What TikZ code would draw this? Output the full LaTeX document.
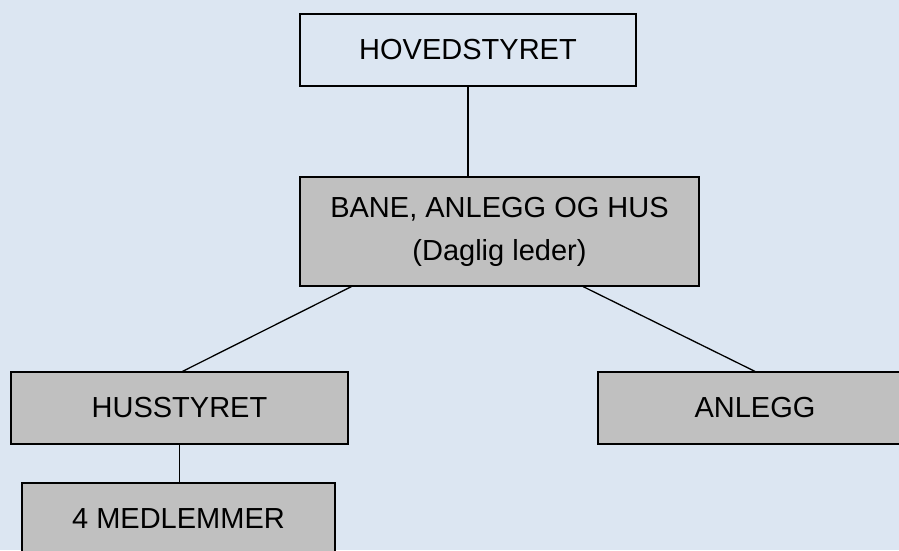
\documentclass[tikz,border=0pt]{standalone}
\usepackage{fontspec}
\setmainfont{Liberation Sans}
\usetikzlibrary{calc}
\definecolor{bgblue}{HTML}{DCE6F2}
\definecolor{boxgray}{HTML}{C0C0C0}
\tikzset{
  orgbox/.style={draw=black, line width=1.2pt, rectangle, align=center, inner sep=0pt,
    font=\fontsize{29}{43}\selectfont},
  topbox/.style={orgbox, fill=bgblue},
  graybox/.style={orgbox, fill=boxgray},
  conn/.style={draw=black, line width=1.3pt}
}
\begin{document}
\begin{tikzpicture}[x=1pt,y=-1pt]
\useasboundingbox (0,0) rectangle (899,550);
\fill[bgblue] (0,0) rectangle (899,550);
\clip (0,0) rectangle (899,550);
\node[topbox, minimum width=336pt, minimum height=72pt] (hoved) at (468,50) {HOVEDSTYRET};
\node[graybox, minimum width=399pt, minimum height=109pt] (bane) at (499.5,231.5) {BANE, ANLEGG OG HUS\\(Daglig leder)};
\node[graybox, minimum width=337pt, minimum height=72pt] (hus) at (179.5,408) {HUSSTYRET};
\node[graybox, minimum width=314pt, minimum height=72pt] (anlegg) at (755,408) {ANLEGG};
\node[graybox, minimum width=313pt, minimum height=72pt] (med) at (178.5,519) {4 MEDLEMMER};
\coordinate (bl) at ($(bane.south west)!0.13!(bane.south east)$);
\coordinate (br) at ($(bane.south west)!0.709!(bane.south east)$);
\draw[conn] (hoved.south) -- (hoved.south |- bane.north);
\draw[conn] (bl) -- ($(hus.north)+(3,0)$);
\draw[conn] (br) -- (anlegg.north);
\draw[conn] (hus.south) -- (hus.south |- med.north);
\end{tikzpicture}
\end{document}
